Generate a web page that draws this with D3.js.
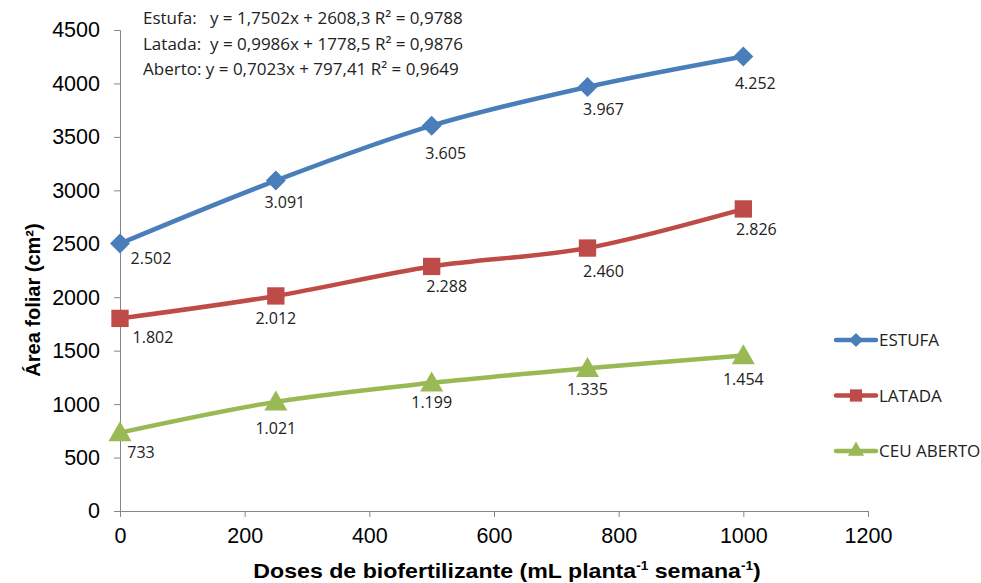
<!DOCTYPE html>
<html><head><meta charset="utf-8">
<script src="https://cdn.jsdelivr.net/npm/d3@7"></script>
<style>body{margin:0;background:#fff}svg{display:block}</style>
</head><body>
<svg id="c" width="981" height="583"></svg>
<script>
const doses = [0, 250, 500, 750, 1000];
const estufa = [2502, 3091, 3605, 3967, 4252];
const latada = [1802, 2012, 2288, 2460, 2826];
const ceuAberto = [733, 1021, 1199, 1335, 1454];
const seriesNames = ["ESTUFA", "LATADA", "CEU ABERTO"];
const xTicks = [0, 200, 400, 600, 800, 1000, 1200];
const yTicks = [0, 500, 1000, 1500, 2000, 2500, 3000, 3500, 4000, 4500];
const equations = [
  "Estufa:   y = 1,7502x + 2608,3 R² = 0,9788",
  "Latada:  y = 0,9986x + 1778,5 R² = 0,9876",
  "Aberto: y = 0,7023x + 797,41 R² = 0,9649"
];

const svg = d3.select("#c");
const x = d3.scaleLinear().domain([0, 1200]).range([120, 868]);
const y = d3.scaleLinear().domain([0, 4500]).range([511, 30]);
const axisColor = "#868686";
const arial = "Liberation Sans, Arial, sans-serif";

// axes
const gx = svg.append("g").attr("transform", "translate(0,511)")
  .call(d3.axisBottom(x).tickValues(xTicks).tickSize(6).tickPadding(8).tickFormat(d3.format("d")));
const gy = svg.append("g").attr("transform", "translate(120,0)")
  .call(d3.axisLeft(y).tickValues(yTicks).tickSize(6).tickPadding(14).tickFormat(d3.format("d")));
[gx, gy].forEach(g => {
  g.select(".domain").attr("stroke", axisColor).attr("stroke-width", 1);
  g.selectAll(".tick line").attr("stroke", axisColor);
  g.selectAll("text").attr("fill", "#000").attr("font-family", arial).attr("font-size", 21.5);
});
gx.selectAll("text").attr("dy", "0.85em");

// axis titles
svg.append("text").attr("transform", "translate(40,300) rotate(-90)")
  .attr("text-anchor", "middle").attr("font-family", arial)
  .attr("font-weight", "bold").attr("font-size", 20).text("Área foliar (cm²)");
const xt = svg.append("text").attr("transform", "translate(507,578) scale(1.13,1)").attr("text-anchor", "middle")
  .attr("font-family", arial).attr("font-weight", "bold").attr("font-size", 20.5);
xt.append("tspan").text("Doses de biofertilizante (mL planta");
xt.append("tspan").attr("font-size", 12).attr("dy", -8).text("-1");
xt.append("tspan").attr("dy", 8).text(" semana");
xt.append("tspan").attr("font-size", 12).attr("dy", -8).text("-1");
xt.append("tspan").attr("dy", 8).text(")");

const series = [
  {name: seriesNames[0], values: estufa, color: "#4A7EBB", marker: d3.symbolSquare, rot: 45, msize: 200, ldx: [31, 9, 14, 16, 12], ldy: [20, 27, 33, 28, 32]},
  {name: seriesNames[1], values: latada, color: "#BE4B48", marker: d3.symbolSquare, rot: 0, msize: 300, ldx: [33, 0, 15, 16, 13], ldy: [25, 28, 26, 29, 26]},
  {name: seriesNames[2], values: ceuAberto, color: "#98B954", marker: d3.symbolTriangle, rot: 0, msize: 230, ldx: [21, 0, 0, 0, 0], ldy: [25, 32, 25, 27, 29]}
];

const line = d3.line().x((d, i) => x(doses[i])).y(d => y(d)).curve(d3.curveCatmullRom.alpha(0.5));
const fmt = v => v >= 1000 ? Math.floor(v / 1000) + "." + String(v % 1000).padStart(3, "0") : String(v);

series.forEach(s => {
  svg.append("path").attr("d", line(s.values)).attr("fill", "none")
    .attr("stroke", s.color).attr("stroke-width", 4.5).attr("stroke-linejoin", "round");
  s.values.forEach((v, i) => {
    svg.append("path").attr("d", d3.symbol().type(s.marker).size(s.msize)())
      .attr("transform", `translate(${x(doses[i])},${y(v) + (s.marker === d3.symbolTriangle ? 2 : 0)}) rotate(${s.rot})`)
      .attr("fill", s.color);
  });
  s.values.forEach((v, i) => {
    svg.append("text").attr("x", x(doses[i]) + s.ldx[i]).attr("y", y(v) + s.ldy[i])
      .attr("text-anchor", "middle").attr("font-family", "Open Sans, sans-serif").attr("font-size", 16)
      .attr("fill", "#222").text(fmt(v));
  });
});

// legend
series.forEach((s, i) => {
  const ly = 340 + i * 55.5;
  svg.append("line").attr("x1", 836).attr("x2", 876).attr("y1", ly).attr("y2", ly)
    .attr("stroke", s.color).attr("stroke-width", 4.5).attr("stroke-linecap", "round");
  svg.append("path").attr("d", d3.symbol().type(s.marker).size(s.msize * 0.5)())
    .attr("transform", `translate(856,${ly}) rotate(${s.rot})`).attr("fill", s.color);
  svg.append("text").attr("x", 879).attr("y", ly + 6).attr("font-family", "Open Sans, sans-serif")
    .attr("font-size", 17).attr("fill", "#222").text(s.name);
});

// equations
equations.forEach((e, i) => {
  svg.append("text").attr("x", 143).attr("y", 24 + i * 25.5).attr("font-family", "Open Sans, sans-serif")
    .attr("font-size", 17).attr("fill", "#222").style("white-space", "pre").text(e);
});
</script>
</body></html>
